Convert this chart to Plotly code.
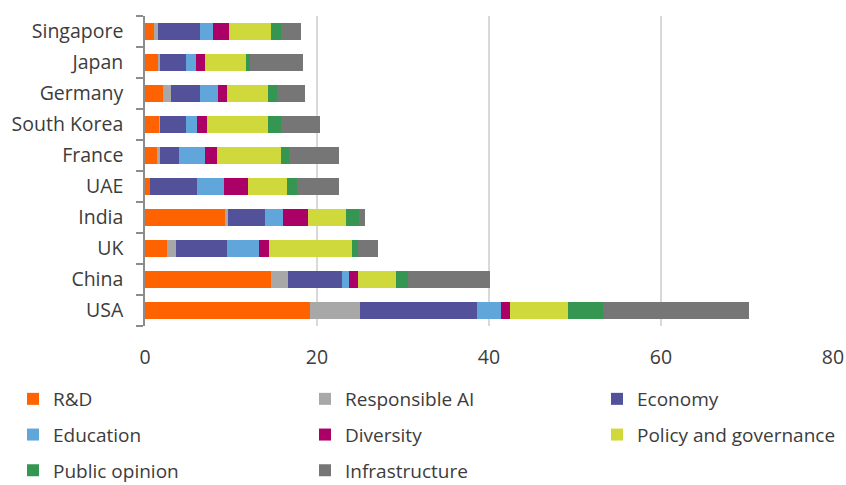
import plotly.graph_objects as go

countries = ["USA", "China", "UK", "India", "UAE", "France", "South Korea", "Germany", "Japan", "Singapore"]

rd          = [19.2, 14.7, 2.5, 9.4, 0.6, 1.4, 1.7, 2.1, 1.6, 1.0]
resp_ai     = [5.8, 1.9, 1.1, 0.2, 0.0, 0.4, 0.1, 0.9, 0.1, 0.5]
economy     = [13.6, 6.3, 5.9, 4.3, 5.5, 2.1, 3.0, 3.4, 3.1, 4.9]
education   = [2.8, 0.8, 3.7, 2.1, 3.1, 3.1, 1.3, 2.1, 1.1, 1.5]
diversity   = [1.0, 1.1, 1.2, 2.9, 2.8, 1.4, 1.1, 1.0, 1.1, 1.9]
policy      = [6.8, 4.4, 9.7, 4.5, 4.5, 7.4, 7.1, 4.8, 4.7, 4.8]
public_op   = [4.0, 1.4, 0.7, 1.5, 1.2, 1.0, 1.5, 1.1, 0.5, 1.2]
infra       = [17.0, 9.5, 2.3, 0.7, 4.9, 5.7, 4.6, 3.2, 6.2, 2.3]

series_names = ["R&D", "Responsible AI", "Economy", "Education", "Diversity",
                "Policy and governance", "Public opinion", "Infrastructure"]
series_values = [rd, resp_ai, economy, education, diversity, policy, public_op, infra]
colors = ["#FF6200", "#A8A8A8", "#525199", "#60A6DA", "#AB0066", "#D0D93C", "#349651", "#767676"]
# legend column for each series (three columns, filled row by row)
legend_ids = ["legend", "legend2", "legend3", "legend", "legend2", "legend3", "legend", "legend2"]

x_ticks = [0, 20, 40, 60, 80]

FONT = "Open Sans"
FS = 19.5
LFS = 19
TXT = "#3c3c3c"

fig = go.Figure()
for name, vals, col, lg in zip(series_names, series_values, colors, legend_ids):
    fig.add_trace(go.Bar(
        y=countries, x=vals, name=name, orientation="h",
        marker=dict(color=col, line=dict(width=0)),
        legend=lg, legendgroup=name,
    ))

leg_common = dict(
    orientation="v", xref="container", yref="container",
    xanchor="left", yanchor="top",
    itemwidth=30, bgcolor="rgba(0,0,0,0)",
    font=dict(family=FONT, size=LFS, color=TXT),
    traceorder="grouped", tracegroupgap=8,
)
leg_top = 1 - 380 / 485

fig.update_layout(
    width=846, height=485,
    margin=dict(l=145, r=13, t=16, b=159, autoexpand=False),
    paper_bgcolor="white", plot_bgcolor="white",
    barmode="stack", bargap=0.43,
    font=dict(family=FONT, size=FS, color=TXT),
    xaxis=dict(
        range=[0, 80], tickvals=x_ticks, showgrid=True,
        gridcolor="#D9D9D9", gridwidth=1.5, zeroline=False,
        showline=False, ticks="", ticklabelstandoff=17,
        tickfont=dict(family=FONT, size=FS, color=TXT),
        fixedrange=True,
    ),
    yaxis=dict(
        type="category", categoryorder="array", categoryarray=countries,
        showline=True, linecolor="#8c8c8c", linewidth=1.5,
        ticks="outside", tickson="boundaries", ticklen=7,
        tickcolor="#8c8c8c", tickwidth=1.5, showgrid=False,
        ticklabelstandoff=16,
        tickfont=dict(family=FONT, size=FS, color=TXT),
    ),
    legend=dict(x=13 / 846, y=leg_top, **leg_common),
    legend2=dict(x=305 / 846, y=leg_top, **leg_common),
    legend3=dict(x=597 / 846, y=leg_top, **leg_common),
)

fig.write_html("out.html")
